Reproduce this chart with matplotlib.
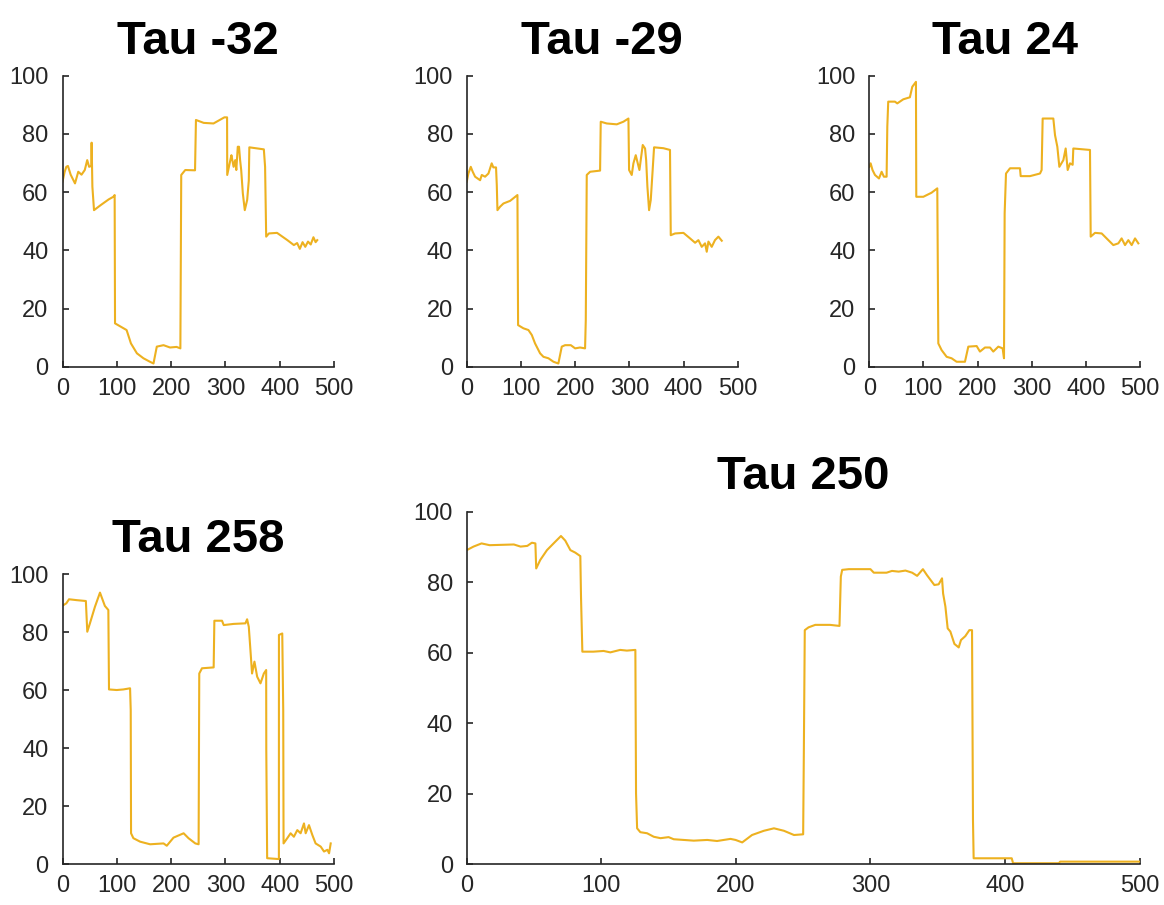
import matplotlib
matplotlib.use("Agg")
import matplotlib.pyplot as plt

plt.rcParams["font.family"] = ["Liberation Sans", "DejaVu Sans"]

LINE_COLOR = "#EDB120"
AXIS_COLOR = "#262626"

titles = ["Tau -32", "Tau -29", "Tau 24", "Tau 258", "Tau 250"]

# Tau -32
tau_m32_x = [0, 4, 7, 10, 15, 23, 29, 35, 41, 45.5, 49, 53, 53.6, 55, 58, 70, 85, 93.6,
             96, 96.7, 105, 118, 126, 137, 149, 161, 167.5, 173.6, 186, 198, 210, 217,
             218.6, 226, 244, 245.7, 260, 278, 298, 303, 303.3, 309, 311, 315, 318, 320,
             322.7, 325, 327, 329, 332, 335.6, 340, 343, 344, 370.7, 373, 375, 380, 395,
             414, 426, 432, 437, 442, 447, 452, 457, 462, 466, 469]
tau_m32_y = [63.6, 67, 68.7, 69, 66, 63, 67, 66, 67.6, 71, 68.7, 69, 77, 61.9, 53.8, 55.5,
             57.5, 58.4, 59, 14.9, 14, 12.6, 8, 4.6, 2.9, 1.7, 1.1, 6.9, 7.4, 6.6, 6.8, 6.3,
             65.9, 67.6, 67.5, 84.8, 83.8, 83.6, 85.7, 85.7, 65.9, 71, 72.7, 68.7, 71, 67.6,
             75.6, 75.6, 71, 67.6, 59.6, 53.8, 57.3, 64, 75.4, 74.7, 68.7, 44.7, 45.8, 46,
             43.5, 41.8, 42.5, 40.5, 42.8, 41.2, 43, 42, 44.5, 42.8, 43.5]

# Tau -29
tau_m29_x = [0, 3, 7.4, 11, 15.4, 24.6, 27.7, 33.8, 40, 46, 49, 54, 55.4, 56.6, 61.5, 67.7,
             80, 93.5, 94.7, 104.5, 113.8, 120, 126, 135.3, 141.5, 150.7, 160, 169, 175.3,
             181.4, 192, 200, 209, 218.3, 219.6, 221.4, 227.6, 246, 247.2, 258.3, 276.8,
             289, 298.3, 299.5, 304.4, 307.5, 311.8, 315.5, 318.6, 321, 324.7, 329, 331,
             333.3, 336.4, 339.5, 343, 345.6, 362.8, 375, 376.4, 384.4, 399.8, 412, 421.3,
             427.4, 433.6, 439.7, 442.8, 445.9, 452, 458, 464.3, 470.5]
tau_m29_y = [63.6, 66.4, 68.7, 67, 65.3, 64.1, 65.9, 65.3, 66.4, 69.9, 68.5, 68.5, 62.4,
             53.8, 55, 56.1, 57, 59, 14.3, 13.2, 12.6, 10.9, 8, 4.6, 3.4, 2.9, 1.7, 1.1,
             6.9, 7.4, 7.4, 6.3, 6.6, 6.3, 16, 65.9, 67, 67.4, 84.2, 83.6, 83.3, 84.2, 85.3,
             67.6, 65.9, 69.9, 72.7, 69.9, 67.6, 71, 76.2, 75, 71, 61.9, 53.8, 57.3, 67.6,
             75.4, 75.1, 74.5, 45.2, 45.8, 46, 44.1, 42.6, 43.5, 41.2, 42.4, 39.5, 43, 41.2,
             43.5, 44.7, 43.3]

# Tau 24
tau_24_x = [0, 2.5, 6, 10.5, 17.9, 22.8, 27, 32, 33.3, 35, 47.4, 51.7, 62.8, 75, 79.4,
            86.2, 86.8, 99.8, 115, 125.6, 127.5, 133.6, 142.9, 152, 161.3, 176.7, 182.9,
            198.3, 204.4, 213.7, 223, 229, 238.3, 246.3, 248.8, 250, 252.5, 259.9, 278.3,
            279.6, 296.8, 315.3, 318.3, 320.2, 339.9, 343, 347.3, 351, 358.4, 362.7, 366.4,
            370.7, 375.6, 376.8, 395.3, 407.6, 408.9, 416.9, 429.2, 441.5, 450.7, 460, 466,
            472.3, 478.4, 484.6, 490.8, 496.9]
tau_24_y = [68.7, 69.9, 67.6, 65.9, 64.7, 67, 65.3, 65.3, 82.5, 91.1, 91.1, 90.5, 91.9,
            92.6, 96.2, 97.9, 58.4, 58.4, 59.8, 61.3, 8, 5.7, 3.4, 2.9, 1.7, 1.7, 6.9, 7.1,
            5.2, 6.6, 6.6, 5.2, 6.9, 6.3, 2.9, 52.7, 66.4, 68.2, 68.2, 65.5, 65.5, 66.4,
            67.6, 85.3, 85.3, 79.6, 75.6, 68.7, 71, 75, 67.6, 69.9, 69.4, 75, 74.7, 74.5,
            44.7, 46, 45.8, 43.5, 41.8, 42.4, 44.1, 41.8, 43.5, 41.8, 44.1, 42.4]

# Tau 258
tau_258_x = [0, 1, 7, 12, 26, 43, 45.6, 50.5, 59.7, 69, 78, 84.4, 85.6, 99.8, 112, 124.4,
             125.6, 126.2, 130.5, 142.9, 161.3, 186, 192, 204.4, 223, 232, 244.5, 250.6,
             251.8, 256.8, 278.3, 279.6, 293.7, 296.8, 315, 336.8, 339.9, 343, 346, 349,
             353.4, 358.4, 364.5, 370.7, 375, 375.2, 376.8, 398.4, 398.5, 404.6, 406.4,
             407, 413.8, 420, 426, 432.3, 438.4, 444.6, 447.7, 453.8, 460, 466, 475.4,
             481.5, 487.7, 490.8, 493.8]
tau_258_y = [89.2, 89.2, 89.9, 91.3, 91, 90.7, 80.1, 83, 88.7, 93.6, 89, 87.6, 60.2, 60,
             60.2, 60.6, 53.1, 10.6, 8.9, 7.7, 6.8, 7.1, 6.3, 9.1, 10.6, 8.9, 7.1, 6.8,
             65.7, 67.5, 67.8, 83.9, 83.9, 82.4, 82.8, 83, 84.4, 81.8, 73.8, 65.7, 69.8,
             64.6, 62.3, 65.7, 66.9, 39.3, 2, 1.7, 79, 79.5, 53.1, 7.1, 8.9, 10.6, 9.4,
             11.7, 10.6, 14, 10.6, 13.4, 10, 7.1, 6, 4.3, 4.9, 3.7, 7.1]

# Tau 250
tau_250_x = [0, 5, 11, 17, 35, 40, 45, 48.4, 51, 51.6, 54.6, 59.6, 65.8, 70, 73.2, 77,
             80.6, 84.4, 84.9, 85.9, 94, 101.7, 106.7, 114, 119, 125.3, 125.8, 126.6, 129,
             134, 139, 144, 150, 153.8, 168.7, 178.7, 186, 196, 199.8, 204.7, 212, 220.8,
             228.3, 235.7, 243.2, 250, 250.5, 251.2, 254, 259, 270, 277, 278, 279, 284,
             300, 302.5, 312, 316, 321, 326, 331, 334.7, 339, 342, 347.5, 350.7, 353.2,
             354, 355.7, 357.4, 359.4, 362.4, 365.6, 367.3, 370.5, 373.5, 375.5, 376.2,
             376.7, 405, 406, 440, 441, 500]
tau_250_y = [89.1, 90.1, 91, 90.5, 90.7, 90.1, 90.3, 91.2, 91, 83.9, 86.3, 89.1, 91.5,
             93.1, 91.8, 89.1, 88.4, 87.4, 75.9, 60.3, 60.3, 60.5, 60.1, 60.8, 60.6, 60.8,
             20.1, 10.2, 9.1, 8.8, 7.8, 7.4, 7.7, 7.1, 6.7, 6.9, 6.6, 7.2, 6.9, 6.2, 8.3,
             9.5, 10.2, 9.5, 8.3, 8.5, 31.5, 66.4, 67.2, 67.9, 67.9, 67.6, 81.6, 83.5,
             83.7, 83.7, 82.7, 82.7, 83.2, 83, 83.3, 82.7, 81.8, 83.7, 82, 79.2, 79.4,
             81.1, 76.8, 73.1, 66.9, 66, 62.5, 61.5, 63.6, 64.7, 66.4, 66.4, 12.6, 1.7,
             1.7, 0.3, 0.3, 0.75, 0.75]

series = [
    (tau_m32_x, tau_m32_y),
    (tau_m29_x, tau_m29_y),
    (tau_24_x, tau_24_y),
    (tau_258_x, tau_258_y),
    (tau_250_x, tau_250_y),
]

# axes rectangles in figure fractions: three on top, two below
rects = [
    [0.0537, 0.5948, 0.2333, 0.3215],
    [0.4010, 0.5948, 0.2328, 0.3215],
    [0.7468, 0.5948, 0.2326, 0.3215],
    [0.0537, 0.0453, 0.2333, 0.3204],
    [0.4010, 0.0450, 0.5780, 0.3896],
]

fig = plt.figure(figsize=(11.64, 9.05), dpi=100)

for rect, title, (xs, ys) in zip(rects, titles, series):
    ax = fig.add_axes(rect)
    ax.plot(xs, ys, color=LINE_COLOR, linewidth=1.5)
    ax.set_xlim(0, 500)
    ax.set_ylim(0, 100)
    ax.set_xticks(range(0, 501, 100))
    ax.set_yticks(range(0, 101, 20))
    for side in ("top", "right"):
        ax.spines[side].set_visible(False)
    for side in ("left", "bottom"):
        ax.spines[side].set_color(AXIS_COLOR)
        ax.spines[side].set_linewidth(1.2)
    ax.tick_params(direction="in", length=4, width=1.2, colors=AXIS_COLOR,
                   labelsize=17, pad=8)
    ax.tick_params(axis="y", pad=10)
    ax.set_title(title, fontsize=34, fontweight="bold", pad=16)

fig.savefig("out.png", dpi=100)
